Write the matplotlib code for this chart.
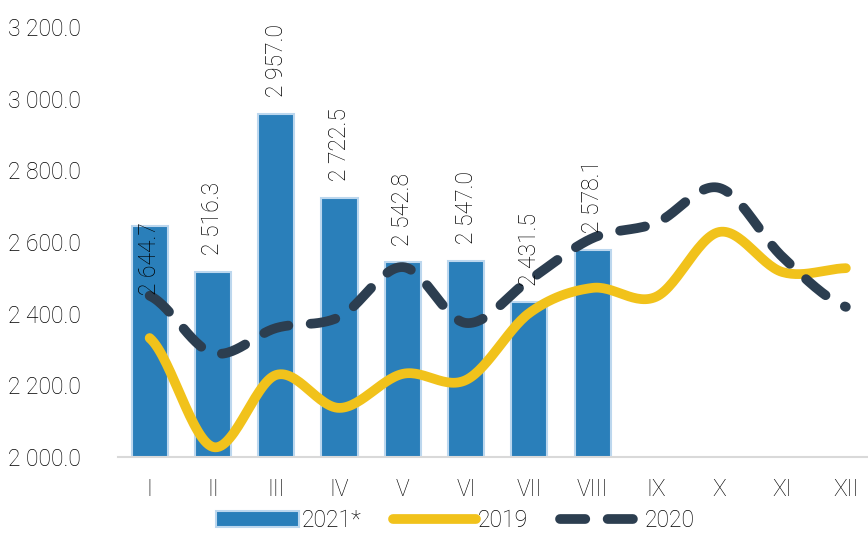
import numpy as np
import matplotlib
matplotlib.use("Agg")
import matplotlib.pyplot as plt
from matplotlib.lines import Line2D
from matplotlib.patches import Patch

plt.rcParams['font.family'] = ['Roboto', 'DejaVu Sans']
plt.rcParams['font.weight'] = 'light'

months = ["I", "II", "III", "IV", "V", "VI", "VII", "VIII", "IX", "X", "XI", "XII"]
values_2021 = [2644.7, 2516.3, 2957.0, 2722.5, 2542.8, 2547.0, 2431.5, 2578.1]
values_2019 = [2332, 2028, 2229, 2137, 2232, 2215, 2402, 2472, 2447, 2628, 2516, 2527]
values_2020 = [2450, 2290, 2360, 2391, 2530, 2374, 2494, 2611, 2653, 2751, 2558, 2419]
yticks = [2000, 2200, 2400, 2600, 2800, 3000, 3200]


def fmt(v):
    s = f"{v:,.1f}"
    return s.replace(",", " ")


def smooth(x, y, n=30):
    x = np.asarray(x, float)
    y = np.asarray(y, float)
    m = len(x)
    xs, ys = [], []
    for i in range(m - 1):
        p0 = y[i - 1] if i > 0 else y[i]
        p1, p2 = y[i], y[i + 1]
        p3 = y[i + 2] if i + 2 < m else y[i + 1]
        t = np.linspace(0, 1, n, endpoint=(i == m - 2))
        t2, t3 = t * t, t * t * t
        yy = 0.5 * ((2 * p1) + (-p0 + p2) * t + (2 * p0 - 5 * p1 + 4 * p2 - p3) * t2
                    + (-p0 + 3 * p1 - 3 * p2 + p3) * t3)
        xs.append(x[i] + (x[i + 1] - x[i]) * t)
        ys.append(yy)
    return np.concatenate(xs), np.concatenate(ys)


fig = plt.figure(figsize=(8.68, 5.55), dpi=100)
ax = fig.add_axes([118 / 868, 1 - 457 / 555, 1 - 118 / 868, (457 - 27) / 555])

x = np.arange(len(months))
xb = np.arange(len(values_2021))
bar_color = "#2a7fba"
ax.bar(xb, values_2021, width=0.57, color=bar_color, edgecolor="#bcd7ee", linewidth=1.5, zorder=2)

sx, sy = smooth(x, values_2019)
ax.plot(sx, sy, color="#f1c21b", lw=7, solid_capstyle="round", zorder=3)
sx, sy = smooth(x, values_2020)
ax.plot(sx, sy, color="#2c3e50", lw=7, dashes=(2.6, 2.3), dash_capstyle="round", zorder=4)

label_offsets = [-50, 12, 12, 12, 12, 12, 12, 12]
for xi, v, off in zip(xb, values_2021, label_offsets):
    ax.annotate(fmt(v), (xi, v), xytext=(0, off), textcoords="offset points",
                rotation=90, ha="center", va="bottom", fontsize=16.5, color="#000000",
                zorder=5)

ax.set_ylim(2000, 3200)
ax.set_xlim(-0.5, 11.35)
ax.set_yticks(yticks)
ax.set_yticklabels([fmt(v) for v in yticks])
ax.set_xticks(x)
ax.set_xticklabels(months)
ax.tick_params(axis="both", length=0, labelsize=16.5, labelcolor="#000000")
ax.tick_params(axis="x", pad=15)
for s in ["top", "right", "left"]:
    ax.spines[s].set_visible(False)
ax.spines["bottom"].set_color("#d9d9d9")
ax.spines["bottom"].set_linewidth(1.5)
ax.set_facecolor("none")
for lbl in ax.get_yticklabels():
    lbl.set_horizontalalignment("left")
ax.yaxis.set_tick_params(pad=(118 - 8) * 72 / 100)

handles = [
    Patch(facecolor=bar_color, edgecolor="#bcd7ee", linewidth=1.5),
    Line2D([0], [0], color="#f1c21b", lw=7, solid_capstyle="round"),
    Line2D([0], [0], color="#2c3e50", lw=7, dashes=(2.6, 2.3), dash_capstyle="round"),
]
fig.legend(handles, ["2021*", "2019", "2020"], loc="center", bbox_to_anchor=(0.525, 0.062),
           ncol=3, frameon=False, fontsize=16.5, handlelength=3.6, handletextpad=0.1,
           columnspacing=1.4, labelcolor="#000000")

fig.savefig("out.png", dpi=100)
